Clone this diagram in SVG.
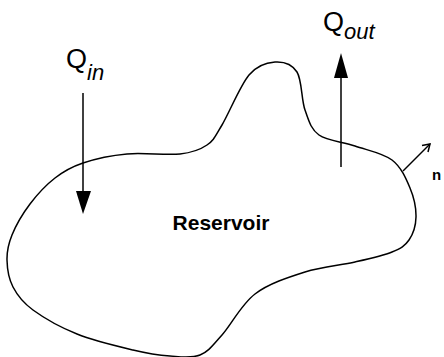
<svg xmlns="http://www.w3.org/2000/svg" width="444" height="357" viewBox="0 0 444 357">
<style>
.ln{fill:none;stroke:#000;stroke-width:1.5}
.hd{fill:#000;stroke:none}
.q{font-family:"Liberation Sans",Arial,sans-serif;font-size:27px;fill:#000}
.sub{font-family:"Liberation Sans",Arial,sans-serif;font-size:22px;font-style:italic;fill:#000}
.lbl{font-family:"Liberation Sans",Arial,sans-serif;font-weight:bold;fill:#000}
</style>
<rect width="444" height="357" fill="#fff"/>
<g id="reservoir">
<path class="ln" d="M83,163 C95,159 110.8,155.5 127,154 C143.2,152.5 166.7,155.5 180,154 C193.3,152.5 200,149.8 207,145 C214,140.2 215,136.7 222,125 C229,113.3 240.2,85.5 249,75 C257.8,64.5 267,62.5 275,62 C283,61.5 292,64 297,72 C302,80 301.3,99.5 305,110 C308.7,120.5 310.7,129 319,135 C327.3,141 342.8,141.8 355,146 C367.2,150.2 382.8,153 392,160 C401.2,167 406,178.5 410,188 C414,197.5 416.2,208.3 416,217 C415.8,225.7 413,234.2 409,240 C405,245.8 401,248.3 392,252 C383,255.7 369.5,258.7 355,262 C340.5,265.3 321.7,266.7 305,272 C288.3,277.3 268.8,283.5 255,294 C241.2,304.5 231.2,324.8 222,335 C212.8,345.2 208.7,351.5 200,355 C191.3,358.5 181.2,356.8 170,356 C158.8,355.2 148.5,353.7 133,350 C117.5,346.3 93.7,340.7 77,334 C60.3,327.3 43.7,317.8 33,310 C22.3,302.2 17.3,295.3 13,287 C8.7,278.7 7.2,268.7 7,260 C6.8,251.3 8.2,244.3 12,235 C15.8,225.7 22.8,213.5 30,204 C37.2,194.5 46.2,184.8 55,178 C63.8,171.2 71,167 83,163 Z"/>
<text class="lbl" x="221" y="230" font-size="21" text-anchor="middle">Reservoir</text>
</g>
<g id="q-in">
<text x="66" y="68"><tspan class="q">Q</tspan><tspan class="sub" x="87" y="80">in</tspan></text>
</g>
<g id="q-out">
<text x="323" y="31"><tspan class="q">Q</tspan><tspan class="sub" x="344" y="39">out</tspan></text>
</g>
<g id="n-label">
<text class="lbl" x="432" y="180" font-size="15">n</text>
</g>
<g id="connectors">
<line class="ln" x1="83" y1="93" x2="83" y2="195"/>
<polygon class="hd" points="83,214 76,191 91,191"/>
<line class="ln" x1="341" y1="167" x2="341" y2="75"/>
<polygon class="hd" points="341,53 334,78 348,78"/>
<line class="ln" x1="403" y1="171" x2="430" y2="144"/>
<polyline class="ln" points="422,145.5 430,144 428,152"/>
</g>
</svg>
